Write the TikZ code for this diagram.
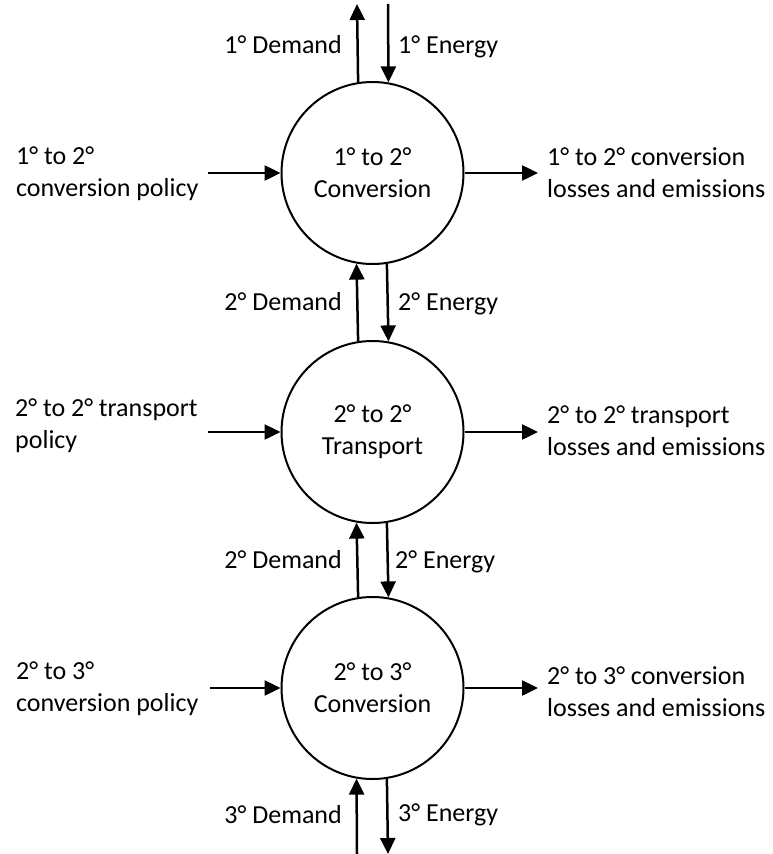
\documentclass[tikz,border=0pt]{standalone}
\usepackage{fontspec}
\setmainfont{Carlito}
\usetikzlibrary{arrows.meta}
\begin{document}
\begin{tikzpicture}[x=1pt,y=-1pt,
  every node/.style={font=\fontsize{26}{32}\selectfont},
  proc/.style={circle,draw,line width=2pt,minimum size=182pt,inner sep=0pt,align=center},
  flow/.style={line width=2.5pt,-{Triangle[length=16pt,width=15pt]}},
  lbl/.style={inner sep=0pt,align=left}]
\useasboundingbox (0,0) rectangle (773,854);
% processes
\node[proc] (c1) at (372.5,173) {1° to 2°\\Conversion};
\node[proc] (c2) at (372.5,432) {2° to 2°\\Transport};
\node[proc] (c3) at (372.5,688) {2° to 3°\\Conversion};
% free ends
\coordinate (tu) at (357,4);
\coordinate (td) at (388,4);
\coordinate (bu) at (357,854);
\coordinate (bd) at (388,854);
\coordinate (l1) at (208,173);
\coordinate (l2) at (208,432);
\coordinate (l3) at (210,688);
\coordinate (r1) at (538,173);
\coordinate (r2) at (538,432);
\coordinate (r3) at (538,688);
% vertical flows
\draw[flow] (c1.99.8) -- (tu);
\draw[flow] (td) -- (c1.80.2);
\draw[flow] (c2.99.8) -- (c1.260.2);
\draw[flow] (c1.279.8) -- (c2.80.2);
\draw[flow] (c3.99.8) -- (c2.260.2);
\draw[flow] (c2.279.8) -- (c3.80.2);
\draw[flow] (bu) -- (c3.260.2);
\draw[flow] (c3.279.8) -- (bd);
% horizontal flows
\draw[flow] (l1) -- (c1.west);
\draw[flow] (l2) -- (c2.west);
\draw[flow] (l3) -- (c3.west);
\draw[flow] (c1.east) -- (r1);
\draw[flow] (c2.east) -- (r2);
\draw[flow] (c3.east) -- (r3);
% vertical labels
\node[lbl,anchor=base east] (d1) at (342,53) {1° Demand};
\node[lbl,anchor=base west] (e1) at (398,53) {1° Energy};
\node[lbl,anchor=base east] (d2) at (342,310) {2° Demand};
\node[lbl,anchor=base west] (e2) at (398,310) {2° Energy};
\node[lbl,anchor=base east] (d3) at (342,568) {2° Demand};
\node[lbl,anchor=base west] (e3) at (395,568) {2° Energy};
\node[lbl,anchor=base east] (d4) at (342,823) {3° Demand};
\node[lbl,anchor=base west] (e4) at (398,821) {3° Energy};
% side labels (base = last line)
\node[lbl,anchor=base west] (p1) at (16,196) {1° to 2°\\conversion policy};
\node[lbl,anchor=base west] (p2) at (15,448) {2° to 2° transport\\policy};
\node[lbl,anchor=base west] (p3) at (16,711) {2° to 3°\\conversion policy};
\node[lbl,anchor=base west] (o1) at (547,197) {1° to 2° conversion\\losses and emissions};
\node[lbl,anchor=base west] (o2) at (547,455) {2° to 2° transport\\losses and emissions};
\node[lbl,anchor=base west] (o3) at (547,716) {2° to 3° conversion\\losses and emissions};
\end{tikzpicture}
\end{document}
